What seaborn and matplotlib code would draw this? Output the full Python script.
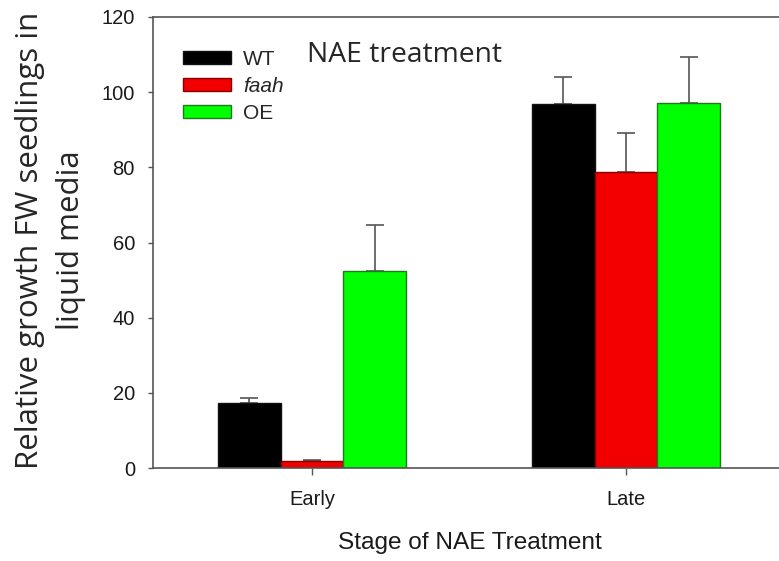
import matplotlib
matplotlib.use("Agg")
import matplotlib.pyplot as plt
import seaborn as sns
import pandas as pd
from matplotlib.patches import Patch

stages = ["Early", "Late"]
genotypes = ["WT", "faah", "OE"]
wt_means = [17.3, 96.9]
faah_means = [1.9, 78.8]
oe_means = [52.4, 97.1]
wt_err = [1.3, 7.1]
faah_err = [0.3, 10.3]
oe_err = [12.3, 12.3]
yticks = [0, 20, 40, 60, 80, 100, 120]

colors = ["#000000", "#f20000", "#00ff00"]
edges = ["#111111", "#8a0000", "#1f7a1f"]

rows = []
for g, means, errs in zip(genotypes, [wt_means, faah_means, oe_means], [wt_err, faah_err, oe_err]):
    for s, m, e in zip(stages, means, errs):
        rows.append({"Stage": s, "Genotype": g, "Value": m, "Err": e})
df = pd.DataFrame(rows)

sns.set_style("white")
plt.rcParams["font.family"] = ["Liberation Sans", "DejaVu Sans"]

W, H = 779, 561
fig = plt.figure(figsize=(W/100, H/100), dpi=100)
ax = fig.add_axes([153/W, 1-468/H, 632/W, (468-17)/H])

sns.barplot(data=df, x="Stage", y="Value", hue="Genotype", order=stages,
            hue_order=genotypes, palette=colors, width=0.6, errorbar=None,
            saturation=1, ax=ax, legend=False)

for container, g, ec in zip(ax.containers, genotypes, edges):
    sub = df[df.Genotype == g].set_index("Stage").loc[stages]
    xs = []
    for bar in container:
        bar.set_edgecolor(ec)
        bar.set_linewidth(1.0)
        xs.append(bar.get_x() + bar.get_width() / 2)
    ax.errorbar(xs, sub["Value"].values, yerr=[[0]*len(xs), sub["Err"].values],
                fmt="none", ecolor="#555555", elinewidth=1.2, capsize=6.5,
                capthick=1.2, zorder=0.5)

ax.set_xlim(-0.506, 1.506)
ax.set_ylim(0, 120)
ax.set_yticks(yticks)
ax.set_yticklabels([str(t) for t in yticks])
ax.tick_params(axis="both", direction="out", width=1.0,
               color="#555555", labelsize=14.5, left=True, bottom=True,
               labelcolor="#1a1a1a")
ax.tick_params(axis="y", pad=9.4, length=3.6)
ax.tick_params(axis="x", pad=10.5, length=5)
for side in ["left", "bottom", "top", "right"]:
    ax.spines[side].set_color("#555555")
    ax.spines[side].set_linewidth(1.2)

ax.set_xlabel("Stage of NAE Treatment", fontsize=17.6, color="#1a1a1a")
ax.xaxis.set_label_coords(0.5016, -0.143)
ax.set_ylabel("Relative growth FW seedlings in\nliquid media", fontsize=22.5,
              family=["Open Sans", "DejaVu Sans"], linespacing=1.5)
ax.yaxis.set_label_coords(-0.106, 0.505)

handles = [Patch(facecolor=c, edgecolor=e, linewidth=1.0) for c, e in zip(colors, edges)]
leg = ax.legend(handles, genotypes, loc="upper left",
                bbox_to_anchor=(183/W, 1-50/H), bbox_transform=fig.transFigure,
                borderpad=0, borderaxespad=0,
                frameon=False, fontsize=15, handlelength=2.3, handleheight=0.63,
                handletextpad=0.58, labelspacing=0.38)
leg.get_texts()[1].set_fontstyle("italic")

fig.text(307/W, 1-62/H, "NAE treatment", fontsize=20.3,
         family=["Open Sans", "DejaVu Sans"], ha="left", va="baseline")

fig.savefig("out.png", dpi=100)
